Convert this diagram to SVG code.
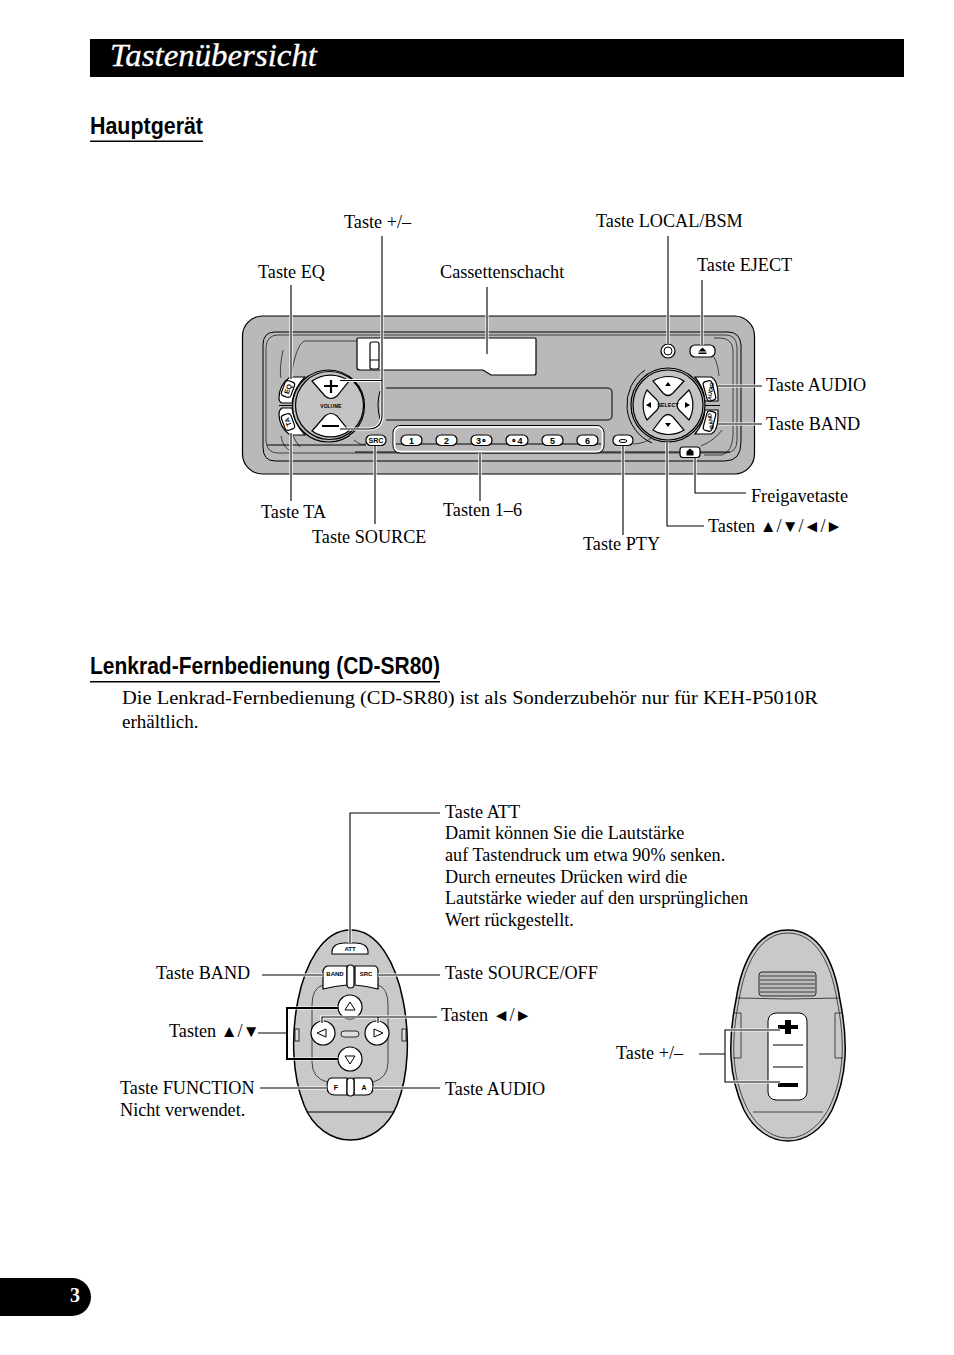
<svg xmlns="http://www.w3.org/2000/svg" width="954" height="1355" viewBox="0 0 954 1355">
<style>
text{font-family:"Liberation Serif","DejaVu Sans",serif;fill:#000}
.l{font-size:18.2px}
.a{font-size:17px}
.b{font-size:19px}
.h{font-family:"Liberation Sans",sans-serif;font-weight:700;font-size:23.5px}
.k{fill:#fff;stroke:#000;stroke-width:1.2}
.d{fill:none;stroke:#000;stroke-width:1}
.m{fill:none;stroke:#222;stroke-width:.8}
.w{fill:none;stroke:#fff;stroke-width:3.2}
.c{fill:none;stroke:#000;stroke-width:1.1}
.t{font-family:"Liberation Sans",sans-serif;font-weight:700;font-size:7px;text-anchor:middle}
.n{font-family:"Liberation Sans",sans-serif;font-weight:700;font-size:9px;text-anchor:middle}
.g{fill:#c9c9c9}
</style>
<defs>
<path id="lines" d="M382 236V415Q382 429 368 429H340M340 380.500H382M291 285V379M291 433V501M375 446V524M480 453V501M487 287V354M668 236V344M702 280V345M718 386H762M718 424H762M695 458V493H746M667 442V526H704M623 446V535M350 943V813H440M262 975H323M378 975H440M258 1033H287M437 1017H322V1023M378 1017V1023M260 1088H327M373 1088H440M699 1054H725M780 1030H725V1082H780"/>
</defs>
<rect width="954" height="1355" fill="#fff"/>
<g id="header"><rect x="90" y="39" width="814" height="38" fill="#000"/>
<text x="110" y="66" font-size="31" font-style="italic" style="fill:#fff;stroke:#fff;stroke-width:.3" textLength="207" lengthAdjust="spacingAndGlyphs">Tastenübersicht</text></g>
<g id="heading-main"><text class="h" x="90" y="134" textLength="113" lengthAdjust="spacingAndGlyphs">Hauptgerät</text><rect x="90" y="140.500" width="113" height="1.500"/></g>
<g id="heading-remote"><text class="h" x="90" y="674" textLength="350" lengthAdjust="spacingAndGlyphs">Lenkrad-Fernbedienung (CD-SR80)</text><rect x="90" y="681" width="350" height="1.500"/></g>
<g id="intro"><text class="b" x="122" y="704" textLength="696" lengthAdjust="spacingAndGlyphs">Die Lenkrad-Fernbedienung (CD-SR80) ist als Sonderzubehör nur für KEH-P5010R</text><text class="b" x="122" y="728">erhältlich.</text></g>
<g id="head-unit">
<rect x="242.500" y="316" width="512" height="158" rx="20" fill="#b9b9b9" stroke="#000" stroke-width="1.200"/>
<path class="d" d="M275 332H728Q740 332 741 345V442Q741 461 725 461H275Q263 461 263 447V345Q263 332 275 332Z" stroke-width="1.300"/>
<path class="m" d="M278 335H726Q736 335 737 347V440Q737 453 725 453H278Q267 453 266 441V347Q267 335 278 335Z"/>
<path class="m" d="M304 341H357M304 341Q296 345 291 376M283 350Q279 370 281 378M281 436Q283 448 291 451M300 447Q296 442 293 436"/>
<path class="m" d="M354 440Q362 447 366 443M633 444Q645 444 654 436M701 446Q715 440 722 430M704 455H722Q732 452 733 436V350Q732 338 720 338H714M714 357Q718 364 719 376"/>
<path class="d" d="M355 452H680M700 452H730M267 445H366"/>
<path class="k" d="M358 338H535Q536 338 536 339V373Q536 375 534 375H491L483 370H360Q357 370 357 368V339Q357 338 358 338Z"/>
<path class="k" d="M372 342H377Q379 342 379 344V367Q379 369 377 369H372Q370 369 370 367V344Q370 342 372 342ZM370 360H379" fill="#ddd"/>
<path class="d" d="M386 388H607Q612 388 612 392V416Q612 420 607 420H386M380 391Q376 405 380 419"/>
<path class="k" d="M305 377H290Q279 385 279 398Q279 402 282 403H292Q294 388 305 377Z"/>
<rect x="283" y="381" width="10" height="16" rx="3" transform="rotate(20 288 389)" class="k"/><text class="t" transform="translate(288 389) rotate(-70)" y="2.500">EQ</text>
<path class="k" d="M305 435H290Q279 427 279 414Q279 410 282 408H292Q294 424 305 435Z"/>
<rect x="283" y="414" width="10" height="16" rx="3" transform="rotate(-20 288 422)" class="k"/><text class="t" transform="translate(288 422) rotate(-110)" y="2.500">TA</text>
<path class="d" d="M279 405.500H298" stroke-width="2"/>
<circle cx="328.500" cy="406" r="36" fill="#bbb" stroke="#000" stroke-width="1.200"/><circle cx="329.500" cy="405.500" r="34" fill="#c4c4c4" stroke="#000" stroke-width="1.200"/>
<path class="k" d="M312 381A32 32 0 0 1 349 381L337 396Q331 401 325 396Z"/><path class="k" d="M312 431A32 32 0 0 0 349 431L337 416Q331 411 325 416Z"/>
<path d="M324 386H338M331 380V393M322 426H339" stroke="#000" stroke-width="2.200"/>
<text class="t" x="331" y="408" style="font-size:5px">VOLUME</text>
<g id="keys-1-6"><rect x="393" y="425.500" width="211" height="27.500" rx="7" fill="#d8d8d8" stroke="#000"/><rect x="394.500" y="427" width="208" height="24.500" rx="6" fill="#b9b9b9" stroke="#fff" stroke-width="1.500"/><path class="d" d="M396 444H601"/>
<rect class="k" x="401" y="435" width="21" height="10.500" rx="5"/><text class="n" x="411.500" y="443.500">1</text>
<rect class="k" x="436" y="435" width="21" height="10.500" rx="5"/><text class="n" x="446.500" y="443.500">2</text>
<rect class="k" x="471" y="435" width="21" height="10.500" rx="5"/><text class="n" x="481.500" y="443.500">3∘</text>
<rect class="k" x="506" y="435" width="22" height="10.500" rx="5"/><text class="n" x="517" y="443.500">∘4</text>
<rect class="k" x="542" y="435" width="21" height="10.500" rx="5"/><text class="n" x="552.500" y="443.500">5</text>
<rect class="k" x="577" y="435" width="21" height="10.500" rx="5"/><text class="n" x="587.500" y="443.500">6</text></g>
<rect class="k" x="366" y="435" width="20" height="10.500" rx="5"/><text class="t" x="376" y="443">SRC</text>
<rect class="k" x="613" y="435" width="20" height="10.500" rx="5"/><ellipse class="d" cx="623" cy="441" rx="4" ry="1.500"/>
<rect class="k" x="680" y="447" width="20" height="10.500" rx="3"/><path d="M690 448.500l3.500 3v4h-7v-4z"/>
<circle class="k" cx="668" cy="351" r="7"/><circle class="d" cx="668" cy="351" r="4"/>
<rect class="k" x="690" y="345" width="25" height="12" rx="5"/><path d="M702.500 347.500l4 4h-8zM698.500 352.500h8v1.500h-8z"/>
<path class="k" d="M695 377H711Q718 380 718 396V401H705Q704 388 695 377Z"/><rect class="k" x="705" y="381" width="9" height="20" rx="3" transform="rotate(-15 709 391)"/><text class="t" transform="translate(710 391) rotate(-80)" y="2.500" style="font-size:5.500px">AUDIO</text>
<path class="k" d="M695 434H711Q718 431 718 415V410H705Q704 423 695 434Z"/><rect class="k" x="705" y="411" width="9" height="20" rx="3" transform="rotate(15 709 421)"/><text class="t" transform="translate(710 421) rotate(-100)" y="2.500" style="font-size:5.500px">BAND</text>
<path class="d" d="M705 405.500H720" stroke-width="2"/>
<path class="d" d="M645 370A42 42 0 0 0 652 443" stroke-width=".9"/>
<circle cx="668" cy="405" r="37" fill="#bbb" stroke="#000" stroke-width="1.200"/><circle cx="668" cy="405" r="35" fill="#c4c4c4" stroke="#000" stroke-width="1.200"/>
<path class="k" d="M653 381A29 29 0 0 1 684 381L673 393Q668 398 663 393Z"/><path class="k" d="M653 430A29 29 0 0 0 684 430L673 417Q668 412 663 417Z"/>
<path class="k" d="M647 390A31 31 0 0 0 647 420L657 410Q661 405 657 400Z"/><path class="k" d="M689 390A31 31 0 0 1 689 420L679 410Q675 405 679 400Z"/>
<path d="M668 382l3 4h-6zM668 427l3-4h-6zM646 405l5-3v6zM690 405l-5-3v6z"/><text class="t" x="668" y="407" style="font-size:5.500px">SELECT</text>
</g>
<g id="remote-front">
<path class="g" d="M350.500 930C379 930 396 965 403 1000C410 1035 409 1075 397 1105C388 1128 369 1140 350.500 1140C332 1140 313 1128 304 1105C292 1075 291 1035 298 1000C305 965 322 930 350.500 930Z" stroke="#000" stroke-width="1.500"/>
<path class="d" d="M307 1112H394" stroke-width=".8"/>
<rect x="295" y="1029" width="4" height="12" fill="#ddd" stroke="#000" stroke-width=".8"/><rect x="402" y="1029" width="4" height="12" fill="#ddd" stroke="#000" stroke-width=".8"/>
<path class="m" d="M323 985Q312 988 312 1005V1062Q312 1078 327 1082M378 985Q388 988 388 1005V1062Q388 1078 373 1082"/>
<path class="k" d="M332 954Q331 943 345 943H355Q369 943 368 954Z"/><text class="t" x="350" y="951" style="font-size:6px">ATT</text>
<path class="k" d="M327 966H347V985Q335 986 323 989V971Q324 967 327 966Z"/><text class="t" x="335" y="976" style="font-size:6px">BAND</text>
<path class="k" d="M355 966H375Q378 967 378 971V989Q366 986 355 985Z"/><text class="t" x="366" y="976" style="font-size:6px">SRC</text>
<rect class="k" x="347" y="965" width="7" height="23" rx="3.500"/>
<path class="k" d="M331 1078H347V1095H335Q327 1095 327 1087Q327 1079 331 1078Z"/><text class="t" x="336" y="1090">F</text>
<path class="k" d="M354 1078H370Q373 1080 373 1087Q373 1095 366 1095H354Z"/><text class="t" x="364" y="1090">A</text>
<rect class="k" x="347" y="1078" width="7" height="18" rx="3.500"/>
<g fill="#fff" stroke="#000" stroke-width="1.200"><circle cx="350" cy="1007" r="12"/><circle cx="323" cy="1033" r="12"/><circle cx="377" cy="1033" r="12"/><circle cx="350" cy="1059" r="12"/></g>
<path class="d" d="M350 1002l5 8h-10zM350 1064l5-8h-10zM317 1033l9-4v8zM383 1033l-9-4v8z"/>
<rect x="341" y="1031" width="18" height="6" rx="3" fill="#ddd" stroke="#000" stroke-width=".8"/>
</g>
<g id="remote-back">
<path class="g" d="M788 930C818 930 834 960 840 1000C848 1040 848 1075 832 1110C822 1130 805 1141 788 1141C771 1141 754 1130 744 1110C728 1075 728 1040 736 1000C742 960 758 930 788 930Z" stroke="#000" stroke-width="1.500"/>
<path class="m" d="M788 933C815 933 831 962 837 1000C845 1040 845 1075 829 1108C819 1127 804 1138 788 1138C772 1138 757 1127 747 1108C731 1075 731 1040 739 1000C745 962 761 933 788 933Z"/>
<path class="m" d="M737 998Q788 1000 840 998M753 1112H823" stroke="#666"/>
<rect x="759" y="972" width="57" height="24" rx="3" fill="#bbb" stroke="#000" stroke-width=".8"/><path class="m" d="M760 976H815M760 980H815M760 984H815M760 988H815M760 992H815"/>
<path class="m" d="M733 1013H741V1058H733M843 1013H835V1058H843"/>
<rect class="k" x="768" y="1013" width="39" height="87" rx="8" style="stroke-width:1"/>
<path d="M778 1025h20v4h-20zM785 1020h6v14h-6zM778 1083h20v4h-20z"/><path class="d" d="M773 1045H803M773 1067H803"/>
</g>
<g id="connectors">
<use href="#lines" class="w"/>
<path class="w" d="M338 1008H287V1059H338"/>
<use href="#lines" class="c"/>
<path d="M338 1008H287V1059H338" fill="none" stroke="#000" stroke-width="2"/>
</g>
<g id="labels">
<text class="l" x="344" y="228">Taste +/–</text><text class="l" x="258" y="278">Taste EQ</text><text class="l" x="440" y="278">Cassettenschacht</text><text class="l" x="596" y="227">Taste LOCAL/BSM</text><text class="l" x="697" y="271">Taste EJECT</text><text class="l" x="766" y="391">Taste AUDIO</text><text class="l" x="766" y="430">Taste BAND</text><text class="l" x="751" y="502">Freigavetaste</text><text class="l" x="708" y="532">Tasten <tspan class="a">▲</tspan>/<tspan class="a">▼</tspan>/<tspan class="a">◄</tspan>/<tspan class="a">►</tspan></text><text class="l" x="261" y="518">Taste TA</text><text class="l" x="312" y="543">Taste SOURCE</text><text class="l" x="443" y="516">Tasten 1–6</text><text class="l" x="583" y="550">Taste PTY</text>
<text class="l" x="445" y="818">Taste ATT</text><text class="l" x="445" y="839">Damit können Sie die Lautstärke</text><text class="l" x="445" y="861">auf Tastendruck um etwa 90% senken.</text><text class="l" x="445" y="883">Durch erneutes Drücken wird die</text><text class="l" x="445" y="904">Lautstärke wieder auf den ursprünglichen</text><text class="l" x="445" y="926">Wert rückgestellt.</text>
<text class="l" x="156" y="979">Taste BAND</text><text class="l" x="445" y="979">Taste SOURCE/OFF</text><text class="l" x="169" y="1037">Tasten <tspan class="a">▲</tspan>/<tspan class="a">▼</tspan></text><text class="l" x="441" y="1021">Tasten <tspan class="a">◄</tspan>/<tspan class="a">►</tspan></text><text class="l" x="120" y="1094">Taste FUNCTION</text><text class="l" x="120" y="1116">Nicht verwendet.</text><text class="l" x="445" y="1095">Taste AUDIO</text><text class="l" x="616" y="1059">Taste +/–</text>
</g>
<g id="page-tab"><path d="M0 1278H72A19 19 0 0 1 72 1316H0Z"/><text x="70" y="1302" font-size="20" font-weight="700" style="fill:#fff">3</text></g>
</svg>
